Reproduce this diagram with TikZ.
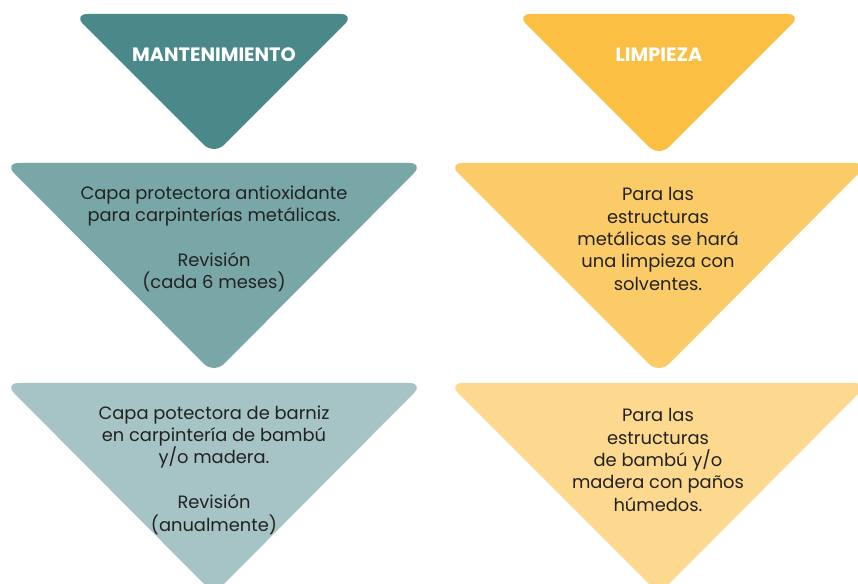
\documentclass[tikz,border=0pt]{standalone}
\usepackage{fontspec}
\setmainfont{Poppins}
\definecolor{mantA}{HTML}{4B8889}
\definecolor{mantB}{HTML}{79A7A8}
\definecolor{mantC}{HTML}{A6C4C5}
\definecolor{limpA}{HTML}{FBBF43}
\definecolor{limpB}{HTML}{FBCB68}
\definecolor{limpC}{HTML}{FCD98F}
\definecolor{txtdark}{HTML}{222222}
\begin{document}
\begin{tikzpicture}[x=0.75pt,y=-0.75pt,
  tri/.style={rounded corners=11pt},
  title/.style={font=\fontsize{14.5}{17}\selectfont\bfseries,text=white},
  body/.style={font=\fontsize{13.4}{16.8}\selectfont,text=txtdark,align=center}]
  \useasboundingbox (0,0) rectangle (858,584);
  \clip (0,0) rectangle (858,584);
  % headers
  \fill[tri,mantA] (73,14)--(355,14)--(214,155)--cycle;
  \fill[tri,limpA] (516,14)--(802,14)--(659,157)--cycle;
  % middle row
  \fill[tri,mantB] (4,163)--(424,163)--(214,374)--cycle;
  \fill[tri,limpB] (448,163)--(869,163)--(659,374)--cycle;
  % bottom row
  \fill[tri,mantC] (4,383)--(424,383)--(214,594)--cycle;
  \fill[tri,limpC] (448,383)--(869,383)--(659,594)--cycle;
  \node[title] (mant) at (214,55) {MANTENIMIENTO};
  \node[title] (limp) at (659,55) {LIMPIEZA};
  \node[body] (metal) at (214,239) {Capa protectora antioxidante\\para carpinterías metálicas.\\[16.8pt]Revisión\\(cada 6 meses)};
  \node[body] (solv) at (658,239) {Para las\\estructuras\\metálicas se hará\\una limpieza con\\solventes.};
  \node[body] (barniz) at (214,470) {Capa potectora de barniz\\en carpintería de bambú\\y/o madera.\\[16.8pt]Revisión\\(anualmente)};
  \node[body] (panos) at (658,460) {Para las\\estructuras\\de bambú y/o\\madera con paños\\húmedos.};
\end{tikzpicture}
\end{document}
